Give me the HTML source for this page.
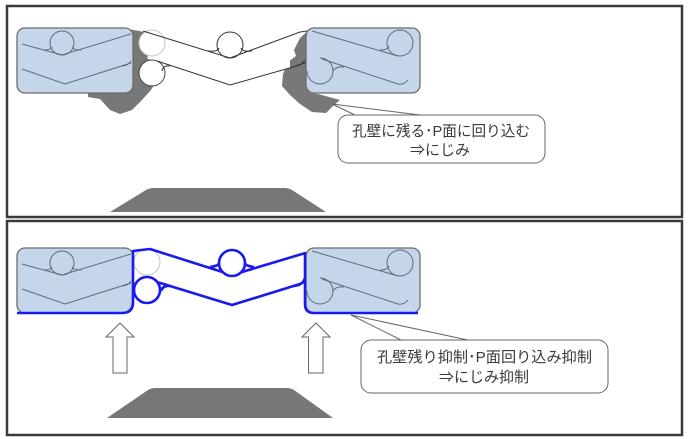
<!DOCTYPE html>
<html><head><meta charset="utf-8"><style>
html,body{margin:0;padding:0;background:#fff;}
svg{display:block;}
text{font-family:"Liberation Sans","Noto Sans CJK JP",sans-serif;fill:#3a3a3a;font-size:15px;}
</style></head><body>
<svg width="689" height="439" viewBox="0 0 689 439" xmlns="http://www.w3.org/2000/svg">
<rect width="689" height="439" fill="#fff"/>
<!-- panels -->
<rect x="7" y="6" width="675" height="211" fill="#fff" stroke="#3a3a3a" stroke-width="2.5"/>
<rect x="7" y="221" width="675" height="214" fill="#fff" stroke="#3a3a3a" stroke-width="2.5"/>

<!-- ============ TOP PANEL ============ -->
<!-- shadows -->
<path d="M128,29 L150,33 L157,42 L150,52 L147,58 L156,65 L157,80 L151,90 L142,100 L132,110 L120,114 L110,110 L100,99 L88,97 L88,92 L128,92 Z" fill="#787878"/>
<path d="M310,29 L300,38 L294,50 L296,56 L288,62 L283,74 L282,86 L290,95 L300,104 L312,112 L326,113 L334,105 L340,100 L318,94 L310,93 Z" fill="#787878"/>
<!-- white band -->
<path d="M158,35 L230,58 L290,36 L290,68 L230,85 L158,61 Z" fill="#fff"/>
<!-- circles -->
<circle cx="152" cy="43" r="13" fill="#fff" stroke="#c4c4c4" stroke-width="1"/>
<circle cx="152" cy="73" r="13" fill="#fff" stroke="#444" stroke-width="1"/>
<circle cx="230" cy="45" r="13" fill="#fff" stroke="#333" stroke-width="1"/>
<!-- band lines -->
<g fill="none" stroke="#333" stroke-width="1">
<path d="M143,31 L230,58 L300,32 L307,31"/>
<path d="M157,61 L230,85 L293,67 L307,62"/>
<path d="M208,51 Q218,52 219,48"/>
<path d="M252,51 Q242,52 241,48"/>
<path d="M170,66 Q163,65 162,71"/>
<path d="M296,66 Q302,65 305,60"/>
</g>
<!-- left box -->
<rect x="17" y="28" width="116" height="65" rx="8" fill="#c5d6ea" stroke="#6b6b6b" stroke-width="1.3"/>
<g fill="none" stroke="#5d6b7e" stroke-width="1">
<path d="M22,44 L62,55 L131,34"/>
<circle cx="62" cy="43" r="12"/>
<path d="M43,50 Q51,50 52,47"/>
<path d="M81,50 Q73,50 72,47"/>
<path d="M22,69 L65,84 L131,63"/>
<path d="M121,66 Q128,66 131,61"/>
</g>
<!-- right box -->
<rect x="306" y="28" width="114" height="65" rx="8" fill="#c5d6ea" stroke="#6b6b6b" stroke-width="1.3"/>
<g fill="none" stroke="#5d6b7e" stroke-width="1">
<path d="M312,31 L398,56"/>
<circle cx="400" cy="43" r="13"/>
<path d="M380,50 Q388,50 389,46"/>
<path d="M322,59 L398,84 Q404,85 408,80"/>
<path d="M307,71 A13,13 0 1,0 320,58"/>
<path d="M344,67 Q336,66 333,71"/>
</g>
<!-- callout top -->
<path d="M356,115.5 L332,104 L424,115.5" fill="none" stroke="#666" stroke-width="1"/>
<rect x="338" y="115" width="207" height="48" rx="10" fill="#fff" stroke="#666" stroke-width="1"/>
<text x="441" y="136" text-anchor="middle" textLength="178" lengthAdjust="spacingAndGlyphs">孔壁に残る･P面に回り込む</text>
<text x="440" y="155" text-anchor="middle">⇒にじみ</text>
<!-- trapezoid top -->
<path d="M110,212 L146,190 Q149,188 154,188 L284,188 Q289,188 292,190 L326,212 Z" fill="#777"/>

<!-- ============ BOTTOM PANEL ============ -->
<!-- left box -->
<rect x="17" y="248" width="116" height="65" rx="8" fill="#c5d6ea" stroke="#6b6b6b" stroke-width="1.3"/>
<g fill="none" stroke="#5d6b7e" stroke-width="1">
<path d="M22,264 L62,275 L131,254"/>
<circle cx="62" cy="263" r="12"/>
<path d="M43,270 Q51,270 52,267"/>
<path d="M81,270 Q73,270 72,267"/>
<path d="M22,289 L65,304 L131,283"/>
<path d="M121,286 Q128,286 131,281"/>
</g>
<!-- right box -->
<rect x="306" y="248" width="114" height="65" rx="8" fill="#c5d6ea" stroke="#6b6b6b" stroke-width="1.3"/>
<g fill="none" stroke="#5d6b7e" stroke-width="1">
<path d="M312,251 L398,276"/>
<circle cx="400" cy="263" r="13"/>
<path d="M380,270 Q388,270 389,266"/>
<path d="M322,279 L398,304 Q404,305 408,300"/>
<path d="M307,291 A13,13 0 1,0 320,278"/>
<path d="M344,287 Q336,286 333,291"/>
</g>
<!-- faint circle -->
<circle cx="147" cy="262" r="13" fill="#fff" stroke="#c4c4c4" stroke-width="1"/>
<!-- blue structure -->
<g fill="none" stroke="#1a1aee" stroke-width="2.6" stroke-linejoin="round">
<path d="M133,251 L150,249 L232,275 L302,254 L306,253"/>
<path d="M157,282 L232,305 L300,284 L306,281"/>
<path d="M17,313 L122,313 Q133,313 133,302 L133,250"/>
<path d="M305,252 L305,304 Q305,313 314,313 L418,313"/>
<path d="M210,267 Q219,266 220,262"/>
<path d="M254,267 Q245,266 244,262"/>
<path d="M171,286 Q163,285 161,291"/>
<path d="M294,286 Q303,285 305,278"/>
</g>
<circle cx="232" cy="263" r="13" fill="#fff" stroke="#1a1aee" stroke-width="2.6"/>
<circle cx="147" cy="290" r="13" fill="#fff" stroke="#1a1aee" stroke-width="2.6"/>
<!-- arrows -->
<path d="M120,323 L106,337 L113,337 L113,373 L127,373 L127,337 L134,337 Z" fill="#fff" stroke="#666" stroke-width="1"/>
<path d="M316,323 L302,337 L308.5,337 L308.5,373 L323,373 L323,337 L330,337 Z" fill="#fff" stroke="#666" stroke-width="1"/>
<!-- callout bottom -->
<path d="M402,340.5 L351,315 L470,340.5" fill="none" stroke="#666" stroke-width="1"/>
<rect x="361" y="340" width="247" height="53" rx="10" fill="#fff" stroke="#666" stroke-width="1"/>
<text x="484.5" y="362" text-anchor="middle" textLength="215" lengthAdjust="spacingAndGlyphs">孔壁残り抑制･P面回り込み抑制</text>
<text x="484" y="382" text-anchor="middle">⇒にじみ抑制</text>
<!-- trapezoid bottom -->
<path d="M107,418 L148,390 Q151,388 156,388 L286,388 Q291,388 294,390 L333,418 Z" fill="#777"/>
</svg>
</body></html>
